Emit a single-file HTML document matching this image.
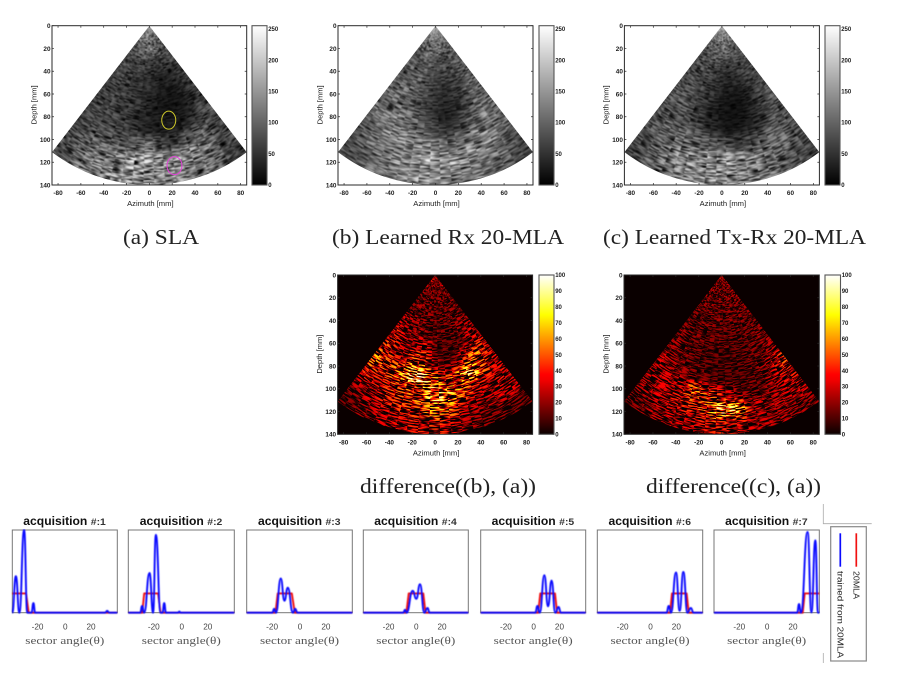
<!DOCTYPE html>
<html>
<head>
<meta charset="utf-8">
<style>
html,body{margin:0;padding:0;background:#fff;width:919px;height:678px;overflow:hidden}
svg{display:block}
text{font-family:"Liberation Sans",sans-serif}
.serif{font-family:"Liberation Serif",serif}
</style>
</head>
<body>
<svg id="figure" xmlns="http://www.w3.org/2000/svg" width="919" height="678" viewBox="0 0 919 678">
<defs>
<filter id="cell-blur" filterUnits="userSpaceOnUse" x="0" y="0" width="919" height="678" color-interpolation-filters="sRGB"><feGaussianBlur stdDeviation="4"/></filter>
<filter id="soft" filterUnits="userSpaceOnUse" x="0" y="0" width="919" height="678" color-interpolation-filters="sRGB"><feGaussianBlur stdDeviation="0.28"/></filter>
<filter id="line-soft" filterUnits="userSpaceOnUse" x="0" y="0" width="919" height="678" color-interpolation-filters="sRGB"><feGaussianBlur stdDeviation="0.4"/></filter>
<filter id="final-gray" filterUnits="userSpaceOnUse" x="0" y="0" width="919" height="678" color-interpolation-filters="sRGB"><feGaussianBlur stdDeviation="0.45"/></filter>
<filter id="final-hot" filterUnits="userSpaceOnUse" x="0" y="0" width="919" height="678" color-interpolation-filters="sRGB">
<feComponentTransfer><feFuncR id="hot-r" type="table" tableValues="0 1"/><feFuncG id="hot-g" type="table" tableValues="0 1"/><feFuncB id="hot-b" type="table" tableValues="0 1"/></feComponentTransfer>
<feGaussianBlur stdDeviation="0.35"/>
</filter>
<filter id="noise-0" x="0" y="0" width="1" height="1" color-interpolation-filters="sRGB"><feTurbulence type="fractalNoise" baseFrequency="0.1 0.75" numOctaves="2" seed="3"/><feColorMatrix values="2.6 0 0 0 -0.7 2.6 0 0 0 -0.7 2.6 0 0 0 -0.7 0 0 0 0 1"/></filter>
<filter id="noise-1" x="0" y="0" width="1" height="1" color-interpolation-filters="sRGB"><feTurbulence type="fractalNoise" baseFrequency="0.08 0.6" numOctaves="2" seed="11"/><feColorMatrix values="1.9 0 0 0 -0.35 1.9 0 0 0 -0.35 1.9 0 0 0 -0.35 0 0 0 0 1"/></filter>
<filter id="noise-2" x="0" y="0" width="1" height="1" color-interpolation-filters="sRGB"><feTurbulence type="fractalNoise" baseFrequency="0.09 0.7" numOctaves="2" seed="23"/><feColorMatrix values="2.3 0 0 0 -0.55 2.3 0 0 0 -0.55 2.3 0 0 0 -0.55 0 0 0 0 1"/></filter>
<filter id="noise-3" x="0" y="0" width="1" height="1" color-interpolation-filters="sRGB"><feTurbulence type="fractalNoise" baseFrequency="0.09 0.7" numOctaves="2" seed="37"/><feColorMatrix values="5 0 0 0 -2.1 5 0 0 0 -2.1 5 0 0 0 -2.1 0 0 0 0 1"/></filter>
<filter id="noise-4" x="0" y="0" width="1" height="1" color-interpolation-filters="sRGB"><feTurbulence type="fractalNoise" baseFrequency="0.1 0.8" numOctaves="2" seed="51"/><feColorMatrix values="5 0 0 0 -2.1 5 0 0 0 -2.1 5 0 0 0 -2.1 0 0 0 0 1"/></filter>
<linearGradient id="grad-gray" x1="0" y1="1" x2="0" y2="0"><stop offset="0" stop-color="#000"/><stop offset="1" stop-color="#fff"/></linearGradient>
<linearGradient id="grad-hot" x1="0" y1="1" x2="0" y2="0"></linearGradient>
</defs>
<rect x="0" y="0" width="919" height="678" fill="#fff"/>
</svg>
<script>
/* Polar image data: rows = depth bins (14 mm), columns = sector-angle bins, left to right */
const imgSLA = [
[90,100,110,120,130,135,130,120,110,100,90],
[80,85,90,95,110,125,110,95,85,80,75],
[65,65,65,65,60,55,45,45,50,55,60],
[60,60,55,50,45,40,35,30,30,40,55],
[60,60,55,50,45,35,25,20,20,30,50],
[60,62,58,50,40,30,22,20,20,30,60],
[65,65,60,55,45,35,25,25,30,50,70],
[60,80,80,75,85,100,60,55,85,90,60],
[70,100,110,120,150,140,130,130,125,100,70],
[70,100,120,130,130,135,125,120,110,90,60]];
const imgRx = [
[100,110,120,130,140,150,140,130,120,110,100],
[90,90,95,100,110,115,105,95,90,90,90],
[80,80,85,85,80,75,70,70,75,80,80],
[85,85,85,80,70,60,55,55,60,75,85],
[90,95,90,80,65,50,40,45,60,85,90],
[95,100,100,80,65,45,30,40,65,95,95],
[100,110,115,110,85,60,45,60,90,110,100],
[90,105,125,125,120,110,95,110,125,120,95],
[80,100,120,135,150,145,140,135,125,110,80],
[70,85,105,120,130,135,125,115,105,85,65]];
const imgTxRx = [
[100,110,120,130,145,150,145,130,120,110,100],
[85,85,90,95,100,105,100,95,85,85,80],
[70,70,70,70,65,60,55,55,60,65,70],
[70,70,65,60,50,40,35,35,40,55,70],
[75,75,65,55,40,25,20,20,30,55,70],
[75,80,70,50,35,20,15,20,30,60,75],
[80,85,75,60,40,25,20,25,40,70,80],
[75,90,95,90,90,85,60,65,85,90,75],
[70,100,115,125,140,140,130,120,110,95,70],
[65,90,110,125,130,135,125,110,100,85,60]];
const diffRx = [
[11,11,12,13,14,14,14,13,12,11,11],
[12,12,12,12,12,12,12,12,12,12,12],
[13,13,13,13,13,11,11,12,12,12,12],
[17,15,15,15,11,11,10,11,13,13,17],
[26,19,15,17,24,11,9,9,11,17,21],
[28,24,18,34,31,13,11,11,26,36,24],
[36,28,36,54,50,34,25,38,50,30,19],
[24,22,27,30,36,50,44,34,21,21,21],
[15,19,24,26,28,36,32,19,15,19,19],
[10,14,18,20,22,25,20,14,12,12,10]];
const diffTxRx = [
[11,11,11,12,13,13,13,12,11,11,11],
[13,13,13,13,13,13,13,13,13,13,13],
[12,12,12,12,12,12,12,12,12,12,12],
[11,11,11,11,11,11,11,11,11,11,11],
[13,13,11,10,9,10,9,9,11,13,13],
[15,13,11,9,9,8,8,9,11,13,15],
[18,15,13,11,9,8,8,9,11,18,28],
[18,18,20,36,28,24,15,11,11,18,22],
[15,19,22,24,32,56,44,20,15,18,20],
[11,15,18,19,21,24,21,17,15,15,13]];

/* Axis tick labels */
const azimuthTicks = [-80,-60,-40,-20,0,20,40,60,80];
const depthTicks = [0,20,40,60,80,100,120,140];
const grayBarTicks = [0,50,100,150,200,250];
const hotBarTicks = [0,10,20,30,40,50,60,70,80,90,100];
const angleTicks = [-20,0,20];

/* Region-of-interest ellipses on the SLA image: azimuth, depth in mm */
const roiAzimuth = [17,22];
const roiDepth = [83,123];

/* Acquisition profiles: sector angle (deg) and amplitude (plateau = 1) */
const acq1Angle = [-40,-37.3,-34.6,-31,-28.6,-25.4,-23.9,-22.6,30.8,32.3,33.8,40];
const acq1Gain  = [0,1.9,0,4.3,0,0,0.5,0,0,0.1,0,0];
const acq2Angle = [-40,-31,-29.6,-28,-24,-21.3,-19.2,-15.6,-14.2,-12.9,-11.6,-2.5,-1.5,-0.5,40];
const acq2Gain  = [0,0,0.35,0,2.07,0,4.05,0,0,0.5,0,0,0.06,0,0];
const acq3Angle = [-40,-20.6,-19.2,-17.8,-14.2,-11.4,-8.9,-5,-3.3,-1.5,40];
const acq3Gain  = [0,0,0.2,0,1.78,0.62,1.3,0,0.2,0,0];
const acq4Angle = [-40,-9.6,-8.2,-7,-2.4,0.4,3.2,6.5,9,10.5,40];
const acq4Gain  = [0,0,0.15,0,1.14,0.72,1.48,0,0.25,0,0];
const acq5Angle = [-40,1.6,3.2,5,8.5,11.3,14,16.8,19.4,21,40];
const acq5Gain  = [0,0,0.35,0,1.95,0.33,1.67,0,0.3,0,0];
const acq6Angle = [-40,12.6,14.2,16,19.7,22.5,25.3,28.4,31,33,40];
const acq6Gain  = [0,0,0.35,0,2.09,0.1,2.12,0,0.25,0,0];
const acq7Angle = [-40,23.2,24.6,26,31.1,34,37,39,40];
const acq7Gain  = [0,0,0.45,0,4.2,0.02,3.76,0,0];

/* 20MLA reference window for each acquisition */
const window1Angle = [-40,-29.5,-27.5,40];
const window1Gain  = [1,1,0,0];
const window2Angle = [-40,-29.5,-28,-17.5,-15.7,40];
const window2Gain  = [0,0,1,1,0,0];
const window3Angle = [-40,-18.2,-16.5,-5.8,-3.6,40];
const window3Gain  = [0,0,1,1,0,0];
const window4Angle = [-40,-7.2,-5.4,5.7,7.4,40];
const window4Gain  = [0,0,1,1,0,0];
const window5Angle = [-40,3.8,5.4,16.6,18.2,40];
const window5Gain  = [0,0,1,1,0,0];
const window6Angle = [-40,15.2,16.7,27.8,29.4,40];
const window6Gain  = [0,0,1,1,0,0];
const window7Angle = [-40,27.4,28.9,40];
const window7Gain  = [0,0,1,1];

const acqAngles = [acq1Angle,acq2Angle,acq3Angle,acq4Angle,acq5Angle,acq6Angle,acq7Angle];
const acqGains = [acq1Gain,acq2Gain,acq3Gain,acq4Gain,acq5Gain,acq6Gain,acq7Gain];
const windowAngles = [window1Angle,window2Angle,window3Angle,window4Angle,window5Angle,window6Angle,window7Angle];
const windowGains = [window1Gain,window2Gain,window3Gain,window4Gain,window5Gain,window6Gain,window7Gain];

const NS = 'http://www.w3.org/2000/svg';
const root = document.getElementById('figure');
const defs = root.querySelector('defs');
function mk(tag, attrs, parent){
  const el = document.createElementNS(NS, tag);
  for (const k in attrs) el.setAttribute(k, attrs[k]);
  (parent || root).appendChild(el);
  return el;
}
function clamp01(v){ return Math.max(0, Math.min(1, v)); }
function hot(t){ return [clamp01(0.04 + t/0.375), clamp01((t-0.375)/0.375), clamp01((t-0.75)/0.25)]; }

/* Hot colormap for filter and colorbar */
(function(){
  const r=[],g=[],b=[];
  const grad = document.getElementById('grad-hot');
  for (let i=0;i<=32;i++){
    const c = hot(i/32);
    r.push(c[0].toFixed(3)); g.push(c[1].toFixed(3)); b.push(c[2].toFixed(3));
    const s = document.createElementNS(NS,'stop');
    s.setAttribute('offset', i/32);
    s.setAttribute('stop-color', 'rgb('+c.map(v=>Math.round(v*255)).join(',')+')');
    grad.appendChild(s);
  }
  document.getElementById('hot-r').setAttribute('tableValues', r.join(' '));
  document.getElementById('hot-g').setAttribute('tableValues', g.join(' '));
  document.getElementById('hot-b').setAttribute('tableValues', b.join(' '));
})();

const SECTOR = 37.5, RMAX = 140, XLIM = 85.3;
const panels = [
 {key:'sla', grid:imgSLA, x0:52, w:194.7, y0:25.7, y1:185, cb:252, cbw:15, hot:false, noise:0, gain:1/0.6/255},
 {key:'rx', grid:imgRx, x0:338, w:195, y0:25.7, y1:185, cb:539, cbw:15, hot:false, noise:1, gain:1/0.6/255},
 {key:'txrx', grid:imgTxRx, x0:624.4, w:195, y0:25.7, y1:185, cb:825, cbw:15, hot:false, noise:2, gain:1/0.6/255},
 {key:'diff-rx', grid:diffRx, x0:337.6, w:195, y0:275, y1:434.3, cb:539, cbw:15, hot:true, noise:3, gain:2/100},
 {key:'diff-txrx', grid:diffTxRx, x0:624, w:195.3, y0:275, y1:434.3, cb:825, cbw:15.5, hot:true, noise:4, gain:2/100}
];

function drawPanel(p, pi){
  const X = v => p.x0 + (v + XLIM) / (2*XLIM) * p.w;
  const Y = v => p.y0 + v / RMAX * (p.y1 - p.y0);
  const pt = (r, deg) => { const a = deg*Math.PI/180; return [X(r*Math.sin(a)), Y(r*Math.cos(a))]; };
  const wedge = (r0, r1, d0, d1) => {
    const a=pt(r0,d0), b=pt(r1,d0), c=pt(r1,d1), d=pt(r0,d1);
    const rx1 = r1/(2*XLIM)*p.w, ry1 = r1/RMAX*(p.y1-p.y0);
    const rx0 = r0/(2*XLIM)*p.w, ry0 = r0/RMAX*(p.y1-p.y0);
    return 'M'+a[0]+' '+a[1]+'L'+b[0]+' '+b[1]+'A'+rx1+' '+ry1+' 0 0 0 '+c[0]+' '+c[1]+'L'+d[0]+' '+d[1]+'A'+rx0+' '+ry0+' 0 0 1 '+a[0]+' '+a[1]+'Z';
  };
  const panel = mk('g', {});
  
  

  if (p.hot) {
    const bg = mk('rect', {x:p.x0, y:p.y0, width:p.w, height:p.y1-p.y0, fill:'#0a0000'}, panel);
    
    
  }

  const clipId = 'sector-' + pi;
  const cp = mk('clipPath', {id:clipId}, defs);
  mk('path', {d:wedge(0, RMAX, -SECTOR, SECTOR)}, cp);

  const image = mk('g', {'clip-path':'url(#'+clipId+')', filter:p.hot?'url(#final-hot)':'url(#final-gray)'}, panel);
  
  

  const cells = mk('g', {filter:'url(#cell-blur)'}, image);
  
  
  const rows = p.grid.length, cols = p.grid[0].length;
  for (let i=0;i<rows;i++){
    for (let j=0;j<cols;j++){
      const r0 = i*RMAX/rows, r1 = i===rows-1 ? RMAX+30 : (i+1)*RMAX/rows;
      const d0 = j===0 ? -SECTOR-14 : -SECTOR + j*2*SECTOR/cols;
      const d1 = j===cols-1 ? SECTOR+14 : -SECTOR + (j+1)*2*SECTOR/cols;
      const g = Math.round(clamp01(p.grid[i][j]*p.gain)*255);
      const col = 'rgb('+g+','+g+','+g+')';
      const cell = mk('path', {d:wedge(r0,r1,d0,d1), fill:col, stroke:col, 'stroke-width':0.6}, cells);
      
      
    }
  }

  const tex = mk('g', {style:'mix-blend-mode:multiply'}, image);
  
  
  const N = 19;
  const ax = X(0), ay = Y(0);
  for (let k=0;k<N;k++){
    const d0 = -SECTOR-1 + k*(2*SECTOR+2)/N, d1 = d0 + (2*SECTOR+2)/N, dm = (d0+d1)/2;
    const id = 'wedge-'+pi+'-'+k;
    const wc = mk('clipPath', {id:id}, defs);
    mk('path', {d:wedge(0, RMAX+20, d0-0.2, d1+0.2)}, wc);
    const wg = mk('g', {'clip-path':'url(#'+id+')'}, tex);
    const sx = k*113.7, sy = k*41.3;
    mk('rect', {x:ax-190-sx, y:ay-10-sy, width:380, height:190, fill:'#fff',
      filter:'url(#noise-'+p.noise+')', transform:'rotate('+(-dm)+' '+ax+' '+ay+') translate('+sx+' '+sy+')'}, wg);
  }

  if (pi === 0) {
    const colors = ['#cfc92a','#e23fd8'];
    roiAzimuth.forEach((a,i)=>{
      const e = mk('ellipse', {cx:X(a), cy:Y(roiDepth[i]), rx:i?7.5:7, ry:9, fill:'none', stroke:colors[i], 'stroke-width':1, filter:'url(#soft)'}, panel);
      
      
    });
  }

  const ann = mk('g', {filter:'url(#soft)', fill:'#1c1c1c', 'font-size':'6.4', 'font-weight':'bold'}, panel);
  
  

  const frame = mk('rect', {x:p.x0, y:p.y0, width:p.w, height:p.y1-p.y0, fill:'none', stroke:'#2a2a2a', 'stroke-width':1}, ann);
  
  

  azimuthTicks.forEach(t=>{
    const tk = mk('path', {d:'M'+X(t)+' '+p.y1+'v-2M'+X(t)+' '+p.y0+'v2', stroke:'#2a2a2a', 'stroke-width':0.7, fill:'none'}, ann);
    
    
    const tx = mk('text', {x:X(t), y:p.y1+10, 'text-anchor':'middle'}, ann);
    tx.textContent = t;
    
    
  });
  depthTicks.forEach(t=>{
    const tk = mk('path', {d:'M'+p.x0+' '+Y(t)+'h2M'+(p.x0+p.w)+' '+Y(t)+'h-2', stroke:'#2a2a2a', 'stroke-width':0.7, fill:'none'}, ann);
    
    
    const tx = mk('text', {x:p.x0-1.5, y:Y(t)+2.3, 'text-anchor':'end'}, ann);
    tx.textContent = t;
    
    
  });
  const xt = mk('text', {x:p.x0+p.w/2+1, y:p.y1+21, 'text-anchor':'middle', 'font-size':'7.4', 'font-weight':'normal', textLength:'46.5', lengthAdjust:'spacingAndGlyphs'}, ann);
  xt.textContent = 'Azimuth [mm]';
  
  
  const yc = (p.y0+p.y1)/2 - 0.5;
  const yt = mk('text', {x:0, y:0, transform:'translate('+(p.x0-15.7)+' '+yc+') rotate(-90)', 'text-anchor':'middle', 'font-size':'7.4', 'font-weight':'normal', textLength:'39', lengthAdjust:'spacingAndGlyphs'}, ann);
  yt.textContent = 'Depth [mm]';
  
  

  const bar = mk('rect', {x:p.cb, y:p.y0, width:p.cbw, height:p.y1-p.y0, fill:p.hot?'url(#grad-hot)':'url(#grad-gray)', stroke:'#555', 'stroke-width':1.1}, panel);
  
  
  const barTicks = p.hot ? hotBarTicks : grayBarTicks;
  const barMax = p.hot ? 100 : 255;
  barTicks.forEach(t=>{
    const by = p.y1 - t/barMax*(p.y1-p.y0);
    const tk = mk('path', {d:'M'+(p.cb+p.cbw)+' '+by+'h-2', stroke:'#333', 'stroke-width':0.7}, ann);
    
    
    const tx = mk('text', {x:p.cb+p.cbw+1.2, y:by+2.2, 'font-size':'6'}, ann);
    tx.textContent = t;
    
    
  });
}
panels.forEach(drawPanel);

/* Sub-figure captions */
const captions = [
 ['(a) SLA',123,244,76],
 ['(b) Learned Rx 20-MLA',332,244,232],
 ['(c) Learned Tx-Rx 20-MLA',603,244,263],
 ['difference((b), (a))',360,493,176],
 ['difference((c), (a))',646,493,175]
];
captions.forEach(c=>{
  const t = mk('text', {x:c[1], y:c[2], class:'serif', 'font-size':'21', fill:'#222', textLength:c[3], lengthAdjust:'spacingAndGlyphs'});
  t.textContent = c[0];
  
  
});

/* Acquisition line charts */
const acqLefts = [12.3,128.3,246.7,363.3,480.7,597.3,714];
const acqRights = [117.3,234.3,352.3,468.3,585.7,702.7,819.3];
const ACQ_TOP = 530, ACQ_BOTTOM = 612.7, ACQ_YMAX = 4.3;
acqLefts.forEach((L,n)=>{
  const R = acqRights[n];
  const X = v => L + (v+40)/80*(R-L);
  const Y = v => ACQ_BOTTOM - v/ACQ_YMAX*(ACQ_BOTTOM-ACQ_TOP);
  const g = mk('g', {});
  
  
  const fr = mk('rect', {x:L, y:ACQ_TOP, width:R-L, height:ACQ_BOTTOM-ACQ_TOP, fill:'#fff', stroke:'#777', 'stroke-width':1}, g);
  
  
  const clipId = 'acq-clip-'+n;
  const cp = mk('clipPath', {id:clipId}, defs);
  mk('rect', {x:L-1, y:ACQ_TOP-1, width:R-L+2, height:ACQ_BOTTOM-ACQ_TOP+3}, cp);
  const plot = mk('g', {'clip-path':'url(#'+clipId+')', filter:'url(#line-soft)', fill:'none', 'stroke-linejoin':'round'}, g);
  
  
  const redD = windowAngles[n].map((a,i)=>(i?'L':'M')+X(a)+' '+Y(windowGains[n][i])).join('');
  const red = mk('path', {d:redD, stroke:'#f01010', 'stroke-width':1.9}, plot);
  
  
  let d = '';
  acqAngles[n].forEach((a,i)=>{
    const x = X(a), y = Y(acqGains[n][i]);
    if (!i) d += 'M'+x+' '+y;
    else {
      const px = X(acqAngles[n][i-1]), py = Y(acqGains[n][i-1]), m = (px+x)/2;
      d += 'C'+m+' '+py+' '+m+' '+y+' '+x+' '+y;
    }
  });
  const blue = mk('path', {d:d, stroke:'#0a0aff', 'stroke-width':1.9}, plot);
  
  

  const txt = mk('g', {filter:'url(#soft)'}, g);
  
  
  const c = (L+R)/2;
  const t1 = mk('text', {x:c-41.5, y:525, 'font-size':'11.5', 'font-weight':'bold', fill:'#111', textLength:'64', lengthAdjust:'spacingAndGlyphs'}, txt);
  t1.textContent = 'acquisition';
  
  
  const t2 = mk('text', {x:c+26, y:525, 'font-size':'9.5', 'font-weight':'bold', fill:'#333', textLength:'15', lengthAdjust:'spacingAndGlyphs'}, txt);
  t2.textContent = '#:' + (n+1);
  
  
  angleTicks.forEach(v=>{
    const tl = mk('text', {x:X(v)+(v===-20?-1:v===0?0.5:0), y:629.5, 'text-anchor':'middle', 'font-size':'8.2', fill:'#444'}, txt);
    tl.textContent = v;
    
    
  });
  const xl = mk('text', {x:c-39.5, y:644, class:'serif', 'font-size':'11', fill:'#555', textLength:'79', lengthAdjust:'spacingAndGlyphs'}, txt);
  xl.textContent = 'sector angle(\u03B8)';
  
  
});

/* Legend */
const lg = mk('g', {filter:'url(#soft)'});


const lbox = mk('rect', {x:830.7, y:526.7, width:35.6, height:134.3, fill:'#fff', stroke:'#888', 'stroke-width':1.2}, lg);


const lred = mk('path', {d:'M856.3 533.3V566.7', stroke:'#f01010', 'stroke-width':1.7}, lg);


const lblue = mk('path', {d:'M840.3 533.3V566.7', stroke:'#0a0aff', 'stroke-width':1.7}, lg);


const ltxt1 = mk('text', {x:0, y:0, transform:'translate(853.6 571) rotate(90)', 'font-size':'8', fill:'#222', textLength:'28', lengthAdjust:'spacingAndGlyphs'}, lg);
ltxt1.textContent = '20MLA';


const ltxt2 = mk('text', {x:0, y:0, transform:'translate(837.6 571) rotate(90)', 'font-size':'8', fill:'#222', textLength:'87', lengthAdjust:'spacingAndGlyphs'}, lg);
ltxt2.textContent = 'trained from 20MLA';


const stray = mk('path', {d:'M823.3 504V523.7H871.7M823.3 653V663', fill:'none', stroke:'#aaa', 'stroke-width':0.8});


</script>
</body>
</html>
